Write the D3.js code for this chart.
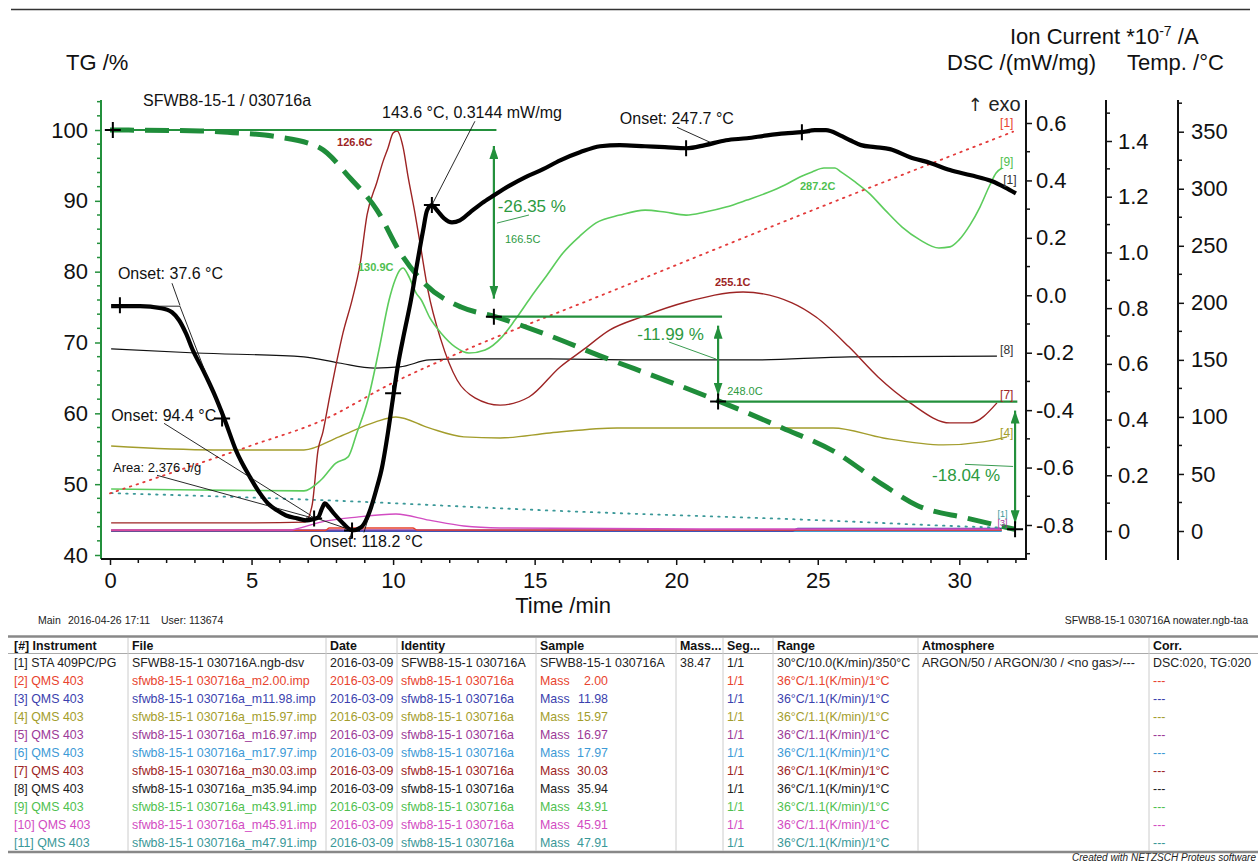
<!DOCTYPE html>
<html>
<head>
<meta charset="utf-8">
<script src="https://cdn.jsdelivr.net/npm/d3@7"></script>
<style>
  body { margin: 0; background: #fff; }
  svg { display: block; }
</style>
</head>
<body>
<div id="chart"></div>
<script>
// ---- data (time in min) ----
const TG_DATA = [[0,100],[3.18,99.86],[4.34,99.62],[5.9,99.05],[7.42,97.46],[8.48,93.22],[9.43,88.7],[10.24,82.77],[11.09,78.39],[12.4,75.0],[13.6,73.65],[15.3,71.3],[17.45,67.9],[19.46,64.9],[21.55,61.66],[23.77,57.9],[25.54,54.7],[27.31,49.9],[28.51,47.0],[30.27,45.2],[31.97,43.62]];

const DSC_DATA = [[0.04,-0.038],[1.06,-0.038],[1.8,-0.045],[2.19,-0.059],[2.44,-0.087],[2.68,-0.132],[2.93,-0.192],[3.29,-0.261],[3.67,-0.341],[4.06,-0.436],[4.45,-0.54],[4.95,-0.634],[5.3,-0.69],[5.58,-0.725],[5.9,-0.749],[6.22,-0.767],[6.61,-0.777],[6.96,-0.784],[7.17,-0.78],[7.35,-0.774],[7.49,-0.742],[7.59,-0.725],[7.74,-0.739],[7.91,-0.76],[8.23,-0.794],[8.55,-0.819],[8.87,-0.808],[9.04,-0.784],[9.22,-0.739],[9.4,-0.679],[9.61,-0.599],[9.82,-0.477],[10.0,-0.355],[10.17,-0.244],[10.39,-0.132],[10.63,-0.017],[10.84,0.105],[11.06,0.226],[11.2,0.296],[11.37,0.314],[11.55,0.296],[11.8,0.268],[12.08,0.254],[12.36,0.261],[12.72,0.289],[13.14,0.321],[13.56,0.348],[14.13,0.383],[14.66,0.411],[15.3,0.439],[15.9,0.47],[16.6,0.498],[17.31,0.519],[18.01,0.523],[18.9,0.519],[19.6,0.516],[20.35,0.512],[21.02,0.523],[21.76,0.54],[22.5,0.547],[23.21,0.557],[23.84,0.564],[24.44,0.568],[24.9,0.575],[25.29,0.575],[25.79,0.557],[26.14,0.54],[26.53,0.523],[27.02,0.516],[27.55,0.509],[28.26,0.481],[29.0,0.46],[29.67,0.436],[30.41,0.418],[31.16,0.397],[31.61,0.376],[32.0,0.355]];

const TEMP_DATA = [[0,33],[5,75],[7.5,97],[10,130],[12.5,158],[17.5,208],[25,283],[31.9,350]];

const QMS_2 = [[0.04,0.002],[7.6,0.002],[7.75,0.011],[10.7,0.011],[10.85,0.003],[31.5,0.003]];
const QMS_3 = [[0.04,0.0],[24.1,0.0],[24.3,0.009],[31.5,0.009]];
const QMS_4 = [[0.04,0.305],[3.67,0.291],[6.85,0.291],[8.09,0.338],[9.36,0.391],[10.1,0.409],[11.27,0.37],[12.5,0.338],[13.78,0.334],[15.54,0.352],[17.91,0.37],[22.61,0.37],[25.54,0.37],[27.31,0.334],[29.43,0.309],[30.84,0.32],[31.69,0.338]];
const QMS_5 = [[0.04,0.004],[31.5,0.004]];
const QMS_6 = [[0.04,0.0],[31.5,0.0]];
const QMS_7 = [[0.04,0.029],[4.95,0.029],[6.89,0.032],[7.14,0.093],[7.35,0.291],[7.52,0.355],[7.77,0.488],[8.02,0.614],[8.23,0.711],[8.55,0.829],[8.83,0.955],[9.08,1.135],[9.43,1.253],[9.64,1.325],[9.82,1.375],[10.0,1.429],[10.14,1.436],[10.35,1.379],[10.53,1.271],[10.77,1.142],[10.95,1.034],[11.23,0.865],[11.69,0.686],[12.26,0.542],[12.89,0.478],[13.78,0.452],[14.8,0.481],[15.9,0.589],[16.71,0.65],[17.66,0.722],[18.76,0.768],[20.35,0.822],[22.36,0.858],[24.09,0.819],[24.94,0.768],[26.1,0.661],[27.13,0.553],[28.26,0.46],[29.67,0.388],[30.38,0.388],[31.33,0.46]];
const QMS_8 = [[0.04,0.654],[3.04,0.639],[6.85,0.625],[8.09,0.603],[9.36,0.585],[10.24,0.589],[11.27,0.614],[12.5,0.618],[15.54,0.618],[19,0.614],[22.61,0.614],[26.14,0.625],[31.33,0.628]];
const QMS_9 = [[0.04,0.151],[3.18,0.147],[6.85,0.144],[7.45,0.183],[7.98,0.244],[8.41,0.266],[8.72,0.352],[9.11,0.471],[9.5,0.65],[9.86,0.83],[10.07,0.901],[10.24,0.937],[10.35,0.944],[10.53,0.919],[10.81,0.855],[10.99,0.83],[11.3,0.765],[11.69,0.711],[12.19,0.661],[12.68,0.639],[13.25,0.65],[13.85,0.697],[14.31,0.758],[14.87,0.84],[15.44,0.919],[16.0,0.998],[16.6,1.059],[17.17,1.106],[18.01,1.134],[18.9,1.152],[19.6,1.145],[20.35,1.134],[21.02,1.145],[21.76,1.163],[22.5,1.188],[23.21,1.214],[23.84,1.242],[24.37,1.271],[24.8,1.289],[25.22,1.303],[25.61,1.303],[25.82,1.289],[26.32,1.253],[26.81,1.213],[27.38,1.152],[27.98,1.091],[28.61,1.045],[29.28,1.016],[29.67,1.02],[29.99,1.045],[30.38,1.099],[30.73,1.163],[31.08,1.242],[31.3,1.285],[31.51,1.303]];
const QMS_10 = [[0.04,0.003],[6.36,0.003],[6.57,0.007],[7.45,0.032],[8.72,0.05],[10.1,0.061],[11.27,0.039],[12.5,0.018],[13.78,0.011],[20.84,0.007],[31.44,0.007]];
const QMS_11 = [[0.04,0.136],[7.45,0.111],[15.9,0.072],[24.97,0.039],[30.84,0.014],[31.5,0.012]];

// TG steps
const TG_STEPS = [100, 73.65, 61.66, 43.62];
const TG_STEP_T = [0.1, 13.56, 21.48, 31.97];
const TG_STEP_END = [13.65, 21.62, 32.05];
const TG_LOSS = ['-26.35 %', '-11.99 %', '-18.04 %'];

// tick labels
const TIME_TICKS = [0, 5, 10, 15, 20, 25, 30];
const TG_TICKS = [40, 50, 60, 70, 80, 90, 100];
const DSC_TICKS = [-0.8, -0.6, -0.4, -0.2, 0.0, 0.2, 0.4, 0.6];
const ION_TICKS = [0, 0.2, 0.4, 0.6, 0.8, 1.0, 1.2, 1.4];
const TEMP_TICKS = [0, 50, 100, 150, 200, 250, 300, 350];

// legend table
const ROW_TAGS = ['[1]','[2]','[3]','[4]','[5]','[6]','[7]','[8]','[9]','[10]','[11]'];
const MASSES = ['2.00','11.98','15.97','16.97','17.97','30.03','35.94','43.91','45.91','47.91'];
const ROW_COLORS = ['#222','#e8432e','#3b3fae','#a39d2c','#9c3a98','#3d9ad6','#9d2424','#222','#4fbf4f','#d24cc2','#3a9898'];

// ---- layout ----
const W = 1260, H = 862;
const TOP = 100, BOTTOM = 559, LEFT = 101, RIGHT = 1026, ION_X = 1106, TEMP_X = 1178;
const FONT = '"Liberation Sans", Arial, sans-serif';
const GREEN = '#23903c';

const svg = d3.select('#chart').append('svg')
  .attr('width', W).attr('height', H)
  .attr('font-family', FONT);

const x = d3.scaleLinear().domain([0, 30]).range([110, 959.3]);
const yTG = d3.scaleLinear().domain([40, 100]).range([555, 130]);
const yDSC = d3.scaleLinear().domain([-0.8, 0.6]).range([525, 123]);
const yIon = d3.scaleLinear().domain([0, 1.4]).range([531, 141]);
const yTemp = d3.scaleLinear().domain([0, 350]).range([531, 131.7]);

const defs = svg.append('defs');
defs.append('marker')
  .attr('id', 'arrow')
  .attr('viewBox', '0 0 10 10')
  .attr('refX', 10).attr('refY', 5)
  .attr('markerUnits', 'userSpaceOnUse')
  .attr('markerWidth', 13).attr('markerHeight', 9)
  .attr('preserveAspectRatio', 'none')
  .attr('orient', 'auto-start-reverse')
  .append('path').attr('d', 'M0,0L10,5L0,10z').attr('fill', GREEN);

// page rule
svg.append('line').attr('x1', 11).attr('x2', 1250).attr('y1', 9.5).attr('y2', 9.5)
  .attr('stroke', '#333').attr('stroke-width', 1.5);

// ---- axes ----
function finishAxis(g, color) {
  g.attr('font-family', FONT).attr('font-size', 22);
  g.select('.domain').remove();
  g.selectAll('.tick line').attr('stroke', color).attr('stroke-width', 1.5);
  g.selectAll('.tick text').attr('fill', '#111');
}

const axL = svg.append('g').attr('transform', `translate(${LEFT},0)`)
  .call(d3.axisLeft(yTG).tickValues(TG_TICKS).tickSize(6).tickPadding(7).tickFormat(d3.format('d')));
finishAxis(axL, GREEN);
axL.selectAll('.minor').data(d3.range(40, 105, 2).filter(d => d % 10)).join('line')
  .attr('x1', -4).attr('x2', 0).attr('y1', d => yTG(d)).attr('y2', d => yTG(d))
  .attr('stroke', GREEN).attr('stroke-width', 1.5);
axL.append('line').attr('y1', TOP).attr('y2', BOTTOM).attr('stroke', GREEN).attr('stroke-width', 2);

const axB = svg.append('g').attr('transform', `translate(0,${BOTTOM})`)
  .call(d3.axisBottom(x).tickValues(TIME_TICKS).tickSize(6).tickPadding(7).tickFormat(d3.format('d')));
finishAxis(axB, '#111');
axB.selectAll('.minor').data(d3.range(0, 33).filter(d => d % 5)).join('line')
  .attr('x1', d => x(d)).attr('x2', d => x(d)).attr('y1', 0).attr('y2', 4)
  .attr('stroke', '#111').attr('stroke-width', 1.5);
axB.append('line').attr('x1', LEFT).attr('x2', RIGHT).attr('stroke', '#111').attr('stroke-width', 2);

function rightAxis(xPos, scale, ticks, minors, fmt, pad) {
  const g = svg.append('g').attr('transform', `translate(${xPos},0)`)
    .call(d3.axisRight(scale).tickValues(ticks).tickSize(6).tickPadding(pad).tickFormat(fmt));
  finishAxis(g, '#111');
  g.selectAll('.minor').data(minors).join('line')
    .attr('x1', 0).attr('x2', 4).attr('y1', d => scale(d)).attr('y2', d => scale(d))
    .attr('stroke', '#111').attr('stroke-width', 1.5);
  g.append('line').attr('y1', TOP).attr('y2', BOTTOM + 1).attr('stroke', '#111').attr('stroke-width', 2);
}
rightAxis(RIGHT, yDSC, DSC_TICKS, [-0.9, -0.7, -0.5, -0.3, -0.1, 0.1, 0.3, 0.5], d => d.toFixed(1), 4);
rightAxis(ION_X, yIon, ION_TICKS, [0.1, 0.3, 0.5, 0.7, 0.9, 1.1, 1.3, 1.5], d => d === 0 ? '0' : d.toFixed(1), 6);
rightAxis(TEMP_X, yTemp, TEMP_TICKS, [25, 75, 125, 175, 225, 275, 325, 375], d3.format('d'), 7);

// ---- axis titles ----
const titles = svg.append('g').attr('fill', '#111').attr('font-size', 22);
titles.append('text').attr('x', 66).attr('y', 70).text('TG /%');
titles.append('text').attr('x', 947).attr('y', 70).text('DSC /(mW/mg)');
titles.append('text').attr('x', 1127).attr('y', 70).text('Temp. /°C');
const ion = titles.append('text').attr('x', 1010).attr('y', 44);
ion.append('tspan').text('Ion Current *10');
ion.append('tspan').attr('font-size', 14).attr('dy', -8).text('-7');
ion.append('tspan').attr('dy', 8).text(' /A');
titles.append('text').attr('x', 563).attr('y', 613).attr('text-anchor', 'middle').text('Time /min');
svg.append('text').attr('x', 143).attr('y', 106).attr('font-size', 16).attr('fill', '#111')
  .text('SFWB8-15-1 / 030716a');
const exo = svg.append('text').attr('x', x(30.3)).attr('y', yDSC(0.641)).attr('font-size', 20).attr('fill', '#222');
exo.append('tspan').attr('font-family', '"DejaVu Sans", sans-serif').attr('font-size', 18).text('\u2191');
exo.append('tspan').text(' exo');

// ---- curves ----
const plot = svg.append('g');
const lineOf = sy => d3.line().x(d => x(d[0])).y(d => sy(d[1])).curve(d3.curveMonotoneX);

const QMS = [
  { data: QMS_6, color: ROW_COLORS[5], w: 2.2 },
  { data: QMS_3, color: ROW_COLORS[2], w: 1.6 },
  { data: QMS_5, color: ROW_COLORS[4], w: 1.2 },
  { data: QMS_2, color: ROW_COLORS[1], w: 1.4 },
  { data: QMS_10, color: ROW_COLORS[9], w: 1.4 },
  { data: QMS_11, color: ROW_COLORS[10], w: 1.8, dash: '1.5,6' },
  { data: QMS_4, color: ROW_COLORS[3], w: 1.4 },
  { data: QMS_8, color: '#111', w: 1.2 },
  { data: QMS_7, color: ROW_COLORS[6], w: 1.4 },
  { data: QMS_9, color: '#5ccc5c', w: 1.6 },
];
QMS.forEach(s => {
  plot.append('path').attr('d', lineOf(yIon)(s.data))
    .attr('fill', 'none').attr('stroke', s.color).attr('stroke-width', s.w)
    .attr('stroke-dasharray', s.dash || null).attr('stroke-linecap', s.dash ? 'round' : null);
});

plot.append('path').attr('d', lineOf(yTemp)(TEMP_DATA))
  .attr('fill', 'none').attr('stroke', '#e33a3a').attr('stroke-width', 1.8)
  .attr('stroke-dasharray', '1.5,5.5').attr('stroke-linecap', 'round');

// TG step lines and arrows
TG_STEPS.slice(0, 3).forEach((v, i) => {
  plot.append('line')
    .attr('x1', x(TG_STEP_T[i])).attr('x2', x(TG_STEP_END[i]))
    .attr('y1', yTG(v)).attr('y2', yTG(v))
    .attr('stroke', GREEN).attr('stroke-width', 2.2);
  const ax = x(TG_STEP_T[i + 1]);
  plot.append('line')
    .attr('x1', ax).attr('x2', ax)
    .attr('y1', yTG(v) + (i === 0 ? 16 : 9)).attr('y2', yTG(TG_STEPS[i + 1]) - (i === 0 ? 18 : 6))
    .attr('stroke', GREEN).attr('stroke-width', 2.2)
    .attr('marker-start', 'url(#arrow)').attr('marker-end', 'url(#arrow)');
});

plot.append('path').attr('d', lineOf(yTG)(TG_DATA))
  .attr('fill', 'none').attr('stroke', '#1f8d3a').attr('stroke-width', 5)
  .attr('stroke-dasharray', '24,11');

plot.append('path').attr('d', lineOf(yDSC)(DSC_DATA))
  .attr('fill', 'none').attr('stroke', '#000').attr('stroke-width', 4.2)
  .attr('stroke-linejoin', 'round');

// thin tangent / leader lines (DSC units)
const DSC_LEADERS = [
  [[0.04, -0.038], [2.47, -0.038]],
  [[2.47, -0.038], [3.89, -0.401]],
  [[2.19, 0.042], [2.47, -0.035]],
  [[1.91, -0.446], [7.1, -0.767]],
  [[1.66, -0.627], [7.1, -0.774]],
  [[7.1, -0.77], [8.55, -0.819]],
  [[8.48, -0.845], [8.55, -0.819]],
  [[8.97, -0.826], [9.47, -0.662]],
  [[12.89, 0.606], [11.37, 0.3144]],
  [[20.03, 0.585], [21.26, 0.53]],
];
DSC_LEADERS.forEach(([a, b]) => {
  plot.append('line').attr('x1', x(a[0])).attr('y1', yDSC(a[1])).attr('x2', x(b[0])).attr('y2', yDSC(b[1]))
    .attr('stroke', '#111').attr('stroke-width', 0.9);
});
const TG_LEADERS = [
  [[13.67, 86.86], [14.8, 88.0]],
  [[19.75, 70.06], [21.41, 67.66]],
  [[30.2, 52.8], [31.9, 52.5]],
];
TG_LEADERS.forEach(([a, b]) => {
  plot.append('line').attr('x1', x(a[0])).attr('y1', yTG(a[1])).attr('x2', x(b[0])).attr('y2', yTG(b[1]))
    .attr('stroke', GREEN).attr('stroke-width', 0.9);
});

// crosses
const DSC_MARKS = [[0.35, -0.035], [3.96, -0.429], [7.21, -0.777], [8.55, -0.819], [10.0, -0.341], [11.37, 0.3144], [20.35, 0.512], [24.44, 0.568]];
const cross = 'M-8,0H8M0,-8V8';
DSC_MARKS.forEach(p => {
  plot.append('path').attr('d', cross).attr('transform', `translate(${x(p[0])},${yDSC(p[1])})`)
    .attr('stroke', '#000').attr('stroke-width', 2);
});
TG_STEPS.forEach((v, i) => {
  plot.append('path').attr('d', cross).attr('transform', `translate(${x(TG_STEP_T[i])},${yTG(v)})`)
    .attr('stroke', '#000').attr('stroke-width', 2);
});

// ---- annotations ----
const ann = svg.append('g').attr('fill', '#111');
const DSC_TEXT = [
  { t: 9.61, v: 0.617, s: '143.6 °C, 0.3144 mW/mg', size: 16 },
  { t: 18.01, v: 0.596, s: 'Onset: 247.7 °C', size: 16 },
  { t: 0.28, v: 0.056, s: 'Onset: 37.6 °C', size: 16 },
  { t: 0.04, v: -0.439, s: 'Onset: 94.4 °C', size: 16 },
  { t: 0.11, v: -0.617, s: 'Area: 2.376 J/g', size: 13 },
  { t: 7.06, v: -0.875, s: 'Onset: 118.2 °C', size: 16 },
];
DSC_TEXT.forEach(d => {
  ann.append('text').attr('x', x(d.t)).attr('y', yDSC(d.v)).attr('font-size', d.size).text(d.s);
});
const ION_TEXT = [
  { t: 8.02, v: 1.382, s: '126.6C', c: '#9d2424' },
  { t: 8.76, v: 0.934, s: '130.9C', c: '#4fbf4f' },
  { t: 21.37, v: 0.88, s: '255.1C', c: '#9d2424' },
  { t: 24.37, v: 1.224, s: '287.2C', c: '#4fbf4f' },
];
ION_TEXT.forEach(d => {
  ann.append('text').attr('x', x(d.t)).attr('y', yIon(d.v)).attr('font-size', 11)
    .attr('font-weight', 'bold').attr('fill', d.c).text(d.s);
});
const TG_TEXT = [
  { t: 13.95, v: 84.04, s: '166.5C', size: 11 },
  { t: 21.8, v: 62.57, s: '248.0C', size: 11 },
  { t: 13.7, v: 88.42, s: TG_LOSS[0], size: 17 },
  { t: 18.62, v: 70.34, s: TG_LOSS[1], size: 17 },
  { t: 29.04, v: 50.42, s: TG_LOSS[2], size: 17 },
];
TG_TEXT.forEach(d => {
  ann.append('text').attr('x', x(d.t)).attr('y', yTG(d.v)).attr('font-size', d.size)
    .attr('fill', '#2d9a3f').text(d.s);
});
const CURVE_TAGS = [
  { t: 31.44, v: 1.451, s: '[1]', c: '#e8432e', size: 12 },
  { t: 31.44, v: 1.311, s: '[9]', c: '#4fbf4f', size: 12 },
  { t: 31.55, v: 1.246, s: '[1]', c: '#333', size: 12 },
  { t: 31.44, v: 0.636, s: '[8]', c: '#333', size: 12 },
  { t: 31.44, v: 0.474, s: '[7]', c: '#9d2424', size: 12 },
  { t: 31.44, v: 0.338, s: '[4]', c: '#a39d2c', size: 12 },
  { t: 31.35, v: 0.05, s: '[1]', c: '#3a9898', size: 9 },
  { t: 31.35, v: 0.018, s: '[3]', c: '#9c3a98', size: 9 },
];
CURVE_TAGS.forEach(d => {
  ann.append('text').attr('x', x(d.t)).attr('y', yIon(d.v)).attr('font-size', d.size)
    .attr('fill', d.c).text(d.s);
});

// ---- footer & table ----
const foot = svg.append('g').attr('font-size', 10.5).attr('fill', '#222');
foot.append('text').attr('x', 38).attr('y', 624).text('Main');
foot.append('text').attr('x', 68).attr('y', 624).text('2016-04-26 17:11');
foot.append('text').attr('x', 161).attr('y', 624).text('User: 113674');
foot.append('text').attr('x', 1248).attr('y', 624).attr('text-anchor', 'end').text('SFWB8-15-1 030716A nowater.ngb-taa');
foot.append('text').attr('x', 1256).attr('y', 861).attr('text-anchor', 'end')
  .attr('font-style', 'italic').attr('font-size', 10).text('Created with NETZSCH Proteus software');

const HEADERS = ['[#] Instrument', 'File', 'Date', 'Identity', 'Sample', 'Mass...', 'Seg...', 'Range', 'Atmosphere', 'Corr.'];
const COL_X = [14, 132, 330, 401, 540, 680, 727, 777, 922, 1153];
const SEP_X = [128, 326, 397, 536, 676, 723, 773, 918, 1149];
const rows = [[
  '[1] STA 409PC/PG', 'SFWB8-15-1 030716A.ngb-dsv', '2016-03-09', 'SFWB8-15-1 030716A', 'SFWB8-15-1 030716A',
  '38.47', '1/1', '30°C/10.0(K/min)/350°C', 'ARGON/50 / ARGON/30 / <no gas>/---', 'DSC:020, TG:020'
]];
MASSES.forEach((m, i) => {
  rows.push([
    `${ROW_TAGS[i + 1]} QMS 403`, `sfwb8-15-1 030716a_m${m}.imp`, '2016-03-09', 'sfwb8-15-1 030716a',
    { mass: m }, '', '1/1', '36°C/1.1(K/min)/1°C', '', '---'
  ]);
});

const tbl = svg.append('g').attr('font-size', 12.4);
tbl.append('line').attr('x1', 8).attr('x2', 1258).attr('y1', 636.5).attr('y2', 636.5).attr('stroke', '#888').attr('stroke-width', 2.5);
tbl.append('line').attr('x1', 8).attr('x2', 1258).attr('y1', 653.5).attr('y2', 653.5).attr('stroke', '#aaa').attr('stroke-width', 1);
tbl.append('line').attr('x1', 8).attr('x2', 1258).attr('y1', 852).attr('y2', 852).attr('stroke', '#888').attr('stroke-width', 2.5);
SEP_X.forEach(sx => {
  tbl.append('line').attr('x1', sx).attr('x2', sx).attr('y1', 638).attr('y2', 851)
    .attr('stroke', '#ccc').attr('stroke-width', 1);
});
HEADERS.forEach((h, i) => {
  tbl.append('text').attr('x', COL_X[i]).attr('y', 650).attr('font-weight', 'bold').attr('fill', '#111').text(h);
});
rows.forEach((r, ri) => {
  const y = 667 + ri * 18;
  const c = ROW_COLORS[ri];
  r.forEach((cell, ci) => {
    if (cell && cell.mass) {
      tbl.append('text').attr('x', COL_X[ci]).attr('y', y).attr('fill', c).text('Mass');
      tbl.append('text').attr('x', COL_X[ci] + 68).attr('y', y).attr('text-anchor', 'end').attr('fill', c).text(cell.mass);
    } else if (cell) {
      tbl.append('text').attr('x', COL_X[ci]).attr('y', y).attr('fill', c).text(cell);
    }
  });
});
</script>
</body>
</html>
